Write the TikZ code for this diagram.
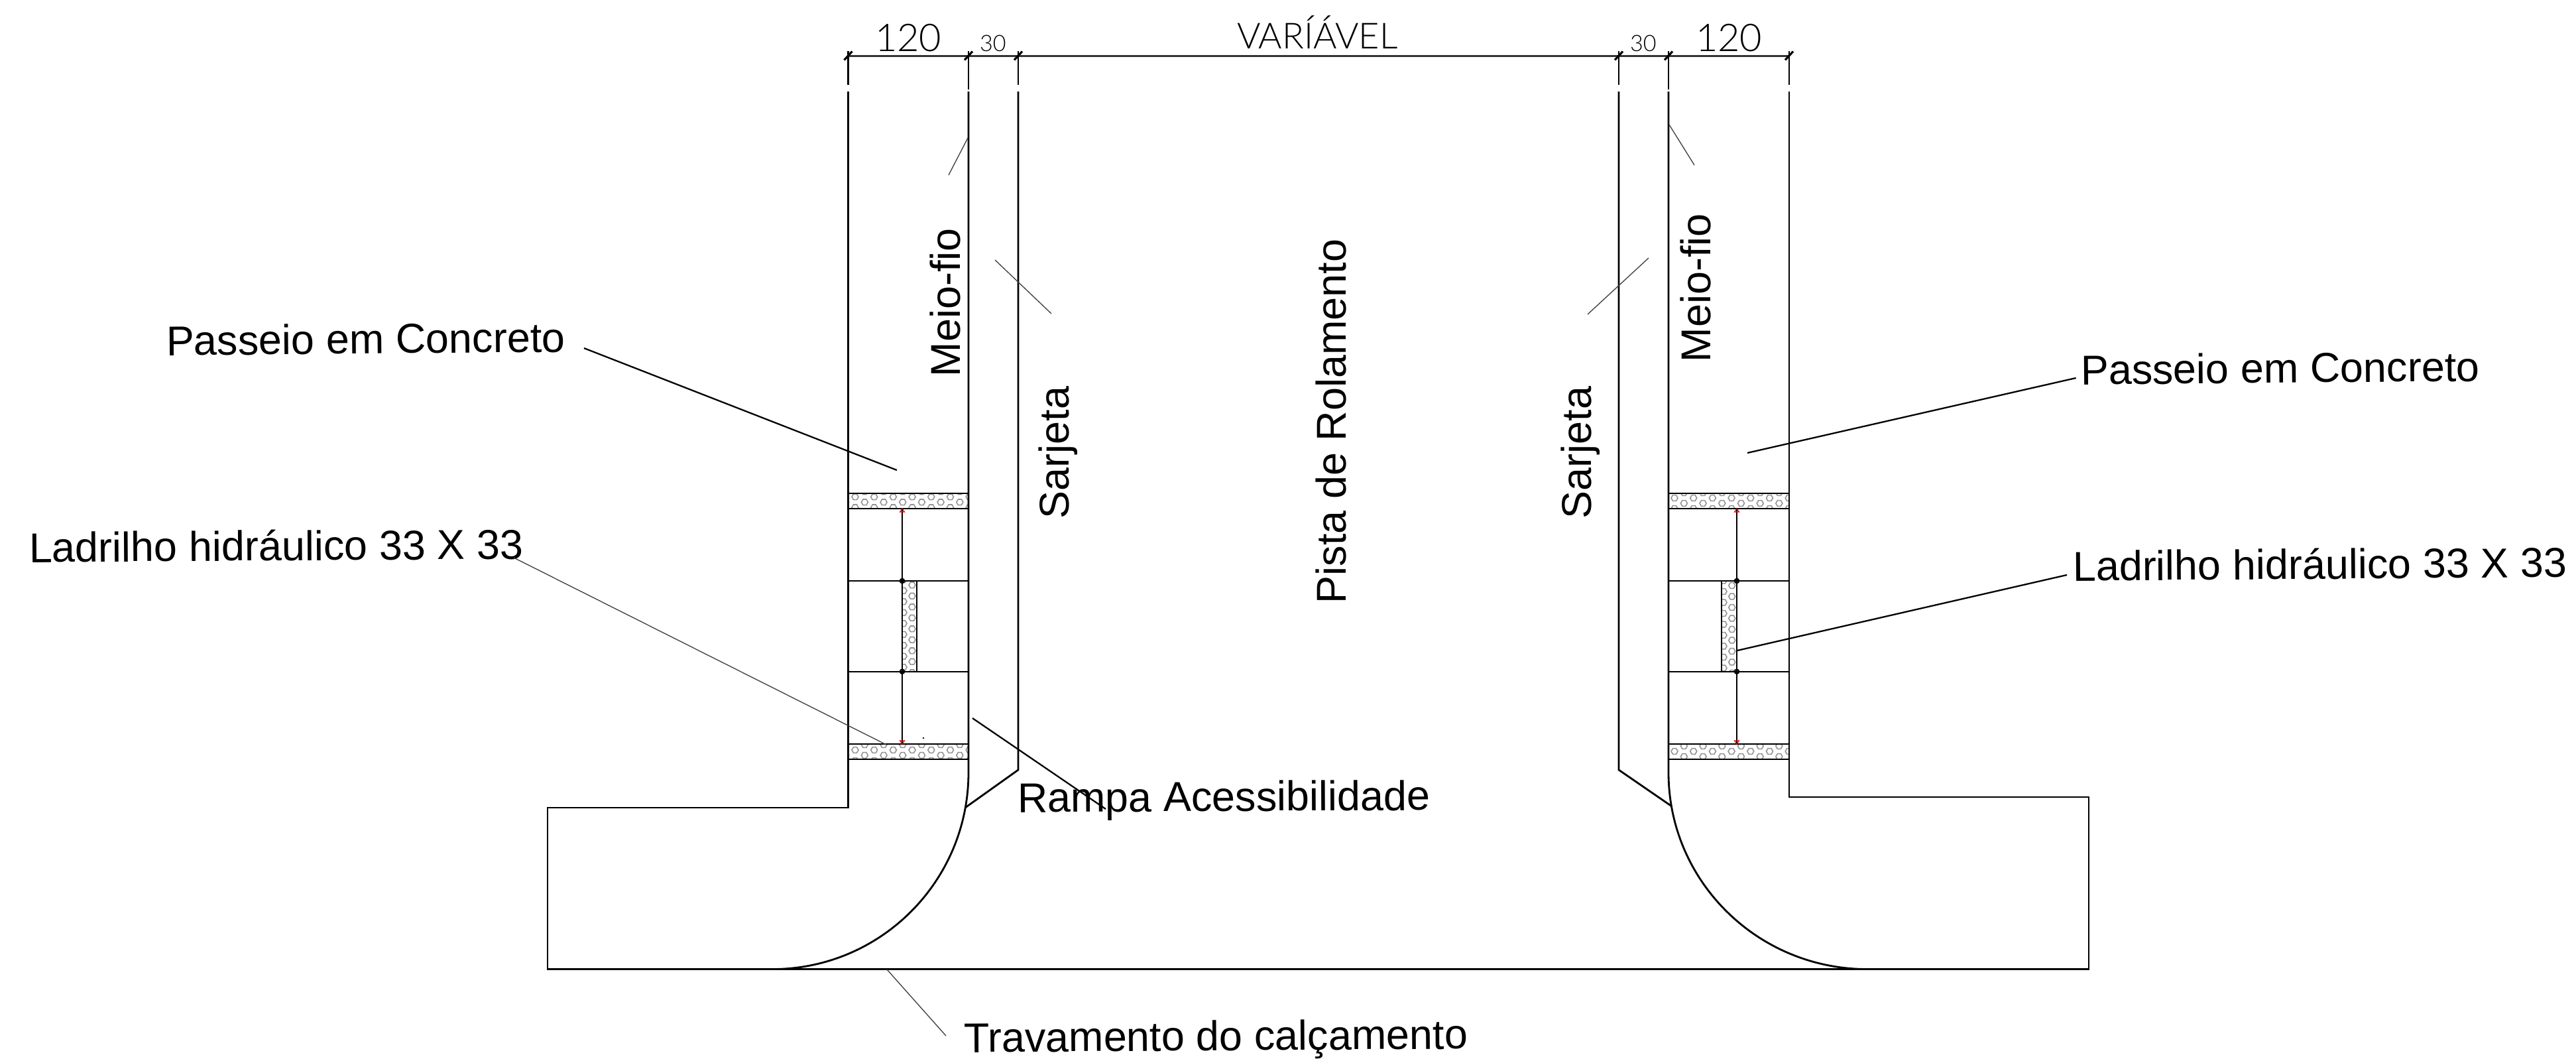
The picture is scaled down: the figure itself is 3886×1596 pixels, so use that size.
\documentclass[tikz,border=0pt]{standalone}
\usepackage{fontspec}
\setmainfont{Liberation Sans}
\newfontfamily\dimfont{Lato}[UprightFont={* Light}]
\tikzset{
  main/.style={black,line width=0.8pt,line cap=butt,line join=miter},
  med/.style={black,line width=0.65pt},
  fine/.style={black!75,line width=0.38pt},
  dimline/.style={black!80,line width=0.85pt},
  tick/.style={black,line width=0.9pt},
  hexa/.style={black!42,line width=0.45pt},
  label/.style={inner sep=0pt,outer sep=0pt,anchor=base west,font=\fontsize{17.9}{20}\selectfont},
  dimbig/.style={inner sep=0pt,outer sep=0pt,anchor=base west,font=\dimfont\fontsize{16.4}{18}\selectfont},
  dimsmall/.style={inner sep=0pt,outer sep=0pt,anchor=base west,font=\dimfont\fontsize{9.7}{11}\selectfont},
  redmark/.style={red!85!black,line width=0.3pt},
}
\newcommand{\hexcell}[2]{\draw[hexa] (#1,#2) +(0:5) -- +(60:5) -- +(120:5) -- +(180:5) -- +(240:5) -- +(300:5) -- cycle;}
\newcommand{\bandcells}[2]{%
 \foreach \ii in {-1,...,7}{
   \pgfmathsetmacro{\xa}{#1+28.7*\ii}
   \pgfmathsetmacro{\xb}{#1+14.35+28.7*\ii}
   \hexcell{\xa}{#2}
   \hexcell{\xa}{#2+16}
   \hexcell{\xb}{#2-8}
   \hexcell{\xb}{#2+8}
 }}
\newcommand{\colcells}[4]{%
 \foreach \ii in {-1,...,9}{
   \pgfmathsetmacro{\ya}{#2+16.5*\ii}
   \pgfmathsetmacro{\yb}{#4+16.5*\ii}
   \hexcell{#1}{\ya}
   \hexcell{#3}{\yb}
 }}
\begin{document}
\begin{tikzpicture}[x=0.01cm,y=-0.01cm]
\useasboundingbox (0,0) rectangle (3886,1596);
% hatch bands
\begin{scope}\clip (1279.5,744) rectangle (1461,767); \bandcells{1290}{749.3}\end{scope}
\begin{scope}\clip (1279.5,1122) rectangle (1461,1145); \bandcells{1290}{1131}\end{scope}
\begin{scope}\clip (2517,744) rectangle (2699,767); \bandcells{2526}{751}\end{scope}
\begin{scope}\clip (2517,1122) rectangle (2699,1145); \bandcells{2526}{1133}\end{scope}
\begin{scope}\clip (1361,876) rectangle (1383,1012); \colcells{1376}{882.3}{1363}{890.7}\end{scope}
\begin{scope}\clip (2597,876) rectangle (2620,1012); \colcells{2612.7}{883}{2600}{892}\end{scope}
% dimension line
\coordinate (d1) at (1279.5,84); \coordinate (d2) at (1461,84); \coordinate (d3) at (1536,84);
\coordinate (d4) at (2442,84); \coordinate (d5) at (2517,84); \coordinate (d6) at (2699,84);
\draw[dimline] (d1) -- (d6);
\foreach \p in {d1,d2,d3,d4,d5,d6}{\draw[tick] (\p) +(-6,6.5) -- +(6,-6.5);}
% upper stubs
\foreach \p in {d1,d3,d4,d6}{\draw[main] (\p) +(0,-7) -- +(0,44);}
\foreach \p in {d2,d5}{\draw[main] (\p) +(0,-7) -- +(0,51);}
% outer contour
\draw[main] (1279.5,138) -- (1279.5,1218) -- (826,1218) -- (826,1461.5) -- (3151,1461.5) -- (3151,1202) -- (2699,1202) -- (2699,138);
% curb lines and arcs
\draw[main] (1461,138) -- (1461,1165) arc[start angle=0,end angle=90,x radius=296,y radius=296.5];
\draw[main] (2517,138) -- (2517,1165) arc[start angle=180,end angle=90,x radius=300,y radius=296.5];
% gutter
\draw[main] (1536,138) -- (1536,1161) -- (1456,1218);
\draw[main] (2442,138) -- (2442,1161) -- (2522,1216);
% paving rows
\foreach \y in {744,767,876,1012.7,1122,1145}{
  \draw[med] (1279.5,\y) -- (1461,\y);
  \draw[med] (2517,\y) -- (2699,\y);
}
\draw[main] (1361,767) -- (1361,1122);
\draw[med] (1383,876) -- (1383,1012.7);
\draw[main] (2620,767) -- (2620,1122);
\draw[med] (2597,876) -- (2597,1012.7);
\foreach \cx in {1361,2620}{
  \draw[black,line width=0.6pt] (\cx,876) circle[radius=3.2];
  \draw[black,line width=0.6pt] (\cx,1012.7) circle[radius=3.2];
  \draw[redmark] (\cx-3.5,772) -- (\cx,767) -- (\cx+3.5,772) -- cycle;
  \draw[redmark] (\cx-3.5,1117) -- (\cx,1122) -- (\cx+3.5,1117) -- cycle;
}
\fill[black] (1393,1113) circle[radius=1.3];
% dimension texts
\node[dimbig] (t120a) at (1320,77) {120};
\node[dimsmall] (t30a) at (1478,77) {30};
\node[dimsmall] (t30b) at (2459,77) {30};
\node[dimbig] (t120b) at (2558,77) {120};
\node[dimbig,font=\dimfont\fontsize{15.4}{18}\selectfont] (tvar) at (1866,73) {VARÍÁVEL};
% labels
\node[label,rotate=0.5] (pL) at (251,536) {Passeio em Concreto};
\node[label,rotate=0.4] (lL) at (44,848) {Ladrilho hidráulico 33 X 33};
\node[label,rotate=0.5] (pR) at (3139,580) {Passeio em Concreto};
\node[label,rotate=0.45] (lR) at (3127,876) {Ladrilho hidráulico 33 X 33};
\node[label,rotate=0.3] (ra) at (1535,1225) {Rampa Acessibilidade};
\node[label,rotate=0.4] (tr) at (1454,1587) {Travamento do calçamento};
\node[label,rotate=90] (mL) at (1448,568) {Meio-fio};
\node[label,rotate=90] (sL) at (1612,782) {Sarjeta};
\node[label,rotate=90] (pi) at (2030,910) {Pista de Rolamento};
\node[label,rotate=90] (sR) at (2400,782) {Sarjeta};
\node[label,rotate=90] (mR) at (2580,546) {Meio-fio};
% leader ends
\coordinate (a1) at (881,525); \coordinate (a2) at (1353,709);
\coordinate (b1) at (775,841); \coordinate (b2) at (1337,1123);
\coordinate (c1) at (3131.6,570); \coordinate (c2) at (2636,683);
\coordinate (e1) at (3118,867); \coordinate (e2) at (2620.7,981);
\coordinate (f1) at (1467,1083); \coordinate (f2) at (1668,1220);
\coordinate (g1) at (1338,1462); \coordinate (g2) at (1427,1562);
\coordinate (h1) at (1460,208); \coordinate (h2) at (1431,264);
\coordinate (i1) at (2518,188); \coordinate (i2) at (2556,249);
\coordinate (j1) at (1501,392); \coordinate (j2) at (1586,473);
\coordinate (k1) at (2487,389); \coordinate (k2) at (2395,474);
\draw[med] (a1) -- (a2);
\draw[fine] (b1) -- (b2);
\draw[med] (c1) -- (c2);
\draw[med] (e1) -- (e2);
\draw[med] (f1) -- (f2);
\draw[fine] (g1) -- (g2);
\draw[fine] (h1) -- (h2);
\draw[fine] (i1) -- (i2);
\draw[fine] (j1) -- (j2);
\draw[fine] (k1) -- (k2);
\end{tikzpicture}
\end{document}
